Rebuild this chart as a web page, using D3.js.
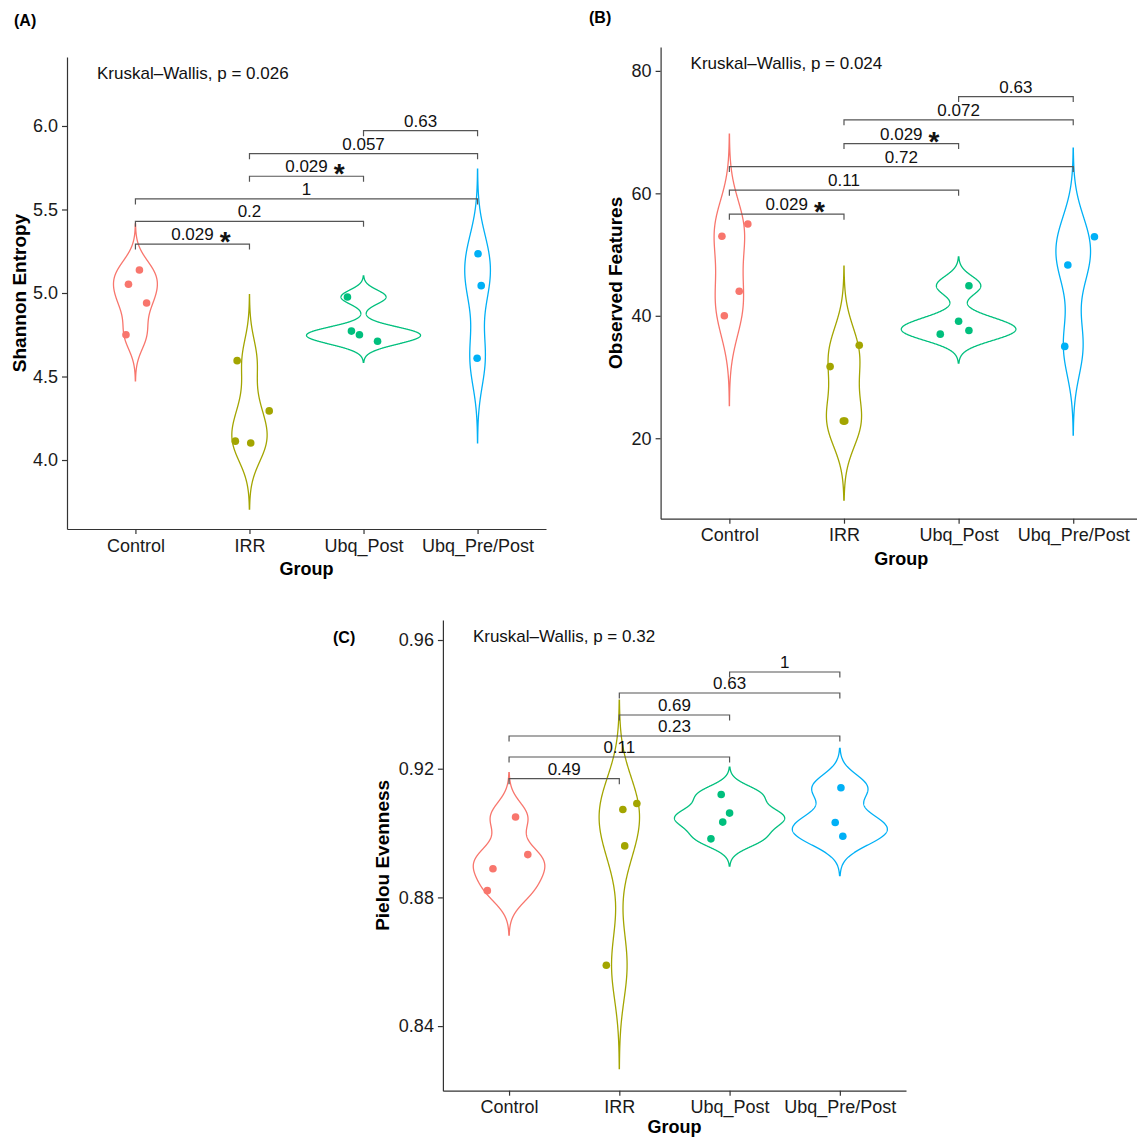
<!DOCTYPE html>
<html>
<head>
<meta charset="utf-8">
<script src="https://d3js.org/d3.v7.min.js"></script>
<style>
  body { margin: 0; background: #fff; }
  svg { font-family: "Liberation Sans", Arial, Helvetica, sans-serif; }
  .violin { fill: none; stroke-width: 1.3; }
  .bracket { fill: none; stroke: #555; stroke-width: 1.2; }
  .axis .domain, .axis line { stroke: #333; stroke-width: 1.2; }
  .axis text { fill: #1a1a1a; font-size: 18px; }
</style>
</head>
<body>
<svg id="chart" width="1137" height="1138"></svg>
<script>
// groups + colours (ggplot hue palette)
var groups = ["Control", "IRR", "Ubq_Post", "Ubq_Pre/Post"];
var colors = ["#F8766D", "#A3A500", "#00BF7D", "#00B0F6"];

// comparisons, same order in every panel: [groupA, groupB]
var pairs = [[0, 1], [0, 2], [0, 3], [1, 2], [1, 3], [2, 3]];

// (A) Shannon entropy
var shannon = [
  [5.138, 5.052, 4.940, 4.750],
  [4.595, 4.294, 4.113, 4.102],
  [4.976, 4.772, 4.750, 4.711],
  [5.235, 5.044, 4.609]
];
var shannonJitter = [
  [0.035, -0.061, 0.098, -0.083],
  [-0.108, 0.173, -0.124, 0.011],
  [-0.141, -0.106, -0.036, 0.123],
  [0.004, 0.032, -0.004]
];
var shannonTicks = [4.0, 4.5, 5.0, 5.5, 6.0];
var shannonDomain = [3.587, 6.413];
var shannonP = ["0.029", "0.2", "1", "0.029", "0.057", "0.63"];
var shannonSig = [true, false, false, true, false, false];
var shannonLevels = [5.293, 5.429, 5.563, 5.699, 5.834, 5.972];

// (B) Observed features
var observed = [
  [55, 53, 44, 40],
  [35.2, 31.7, 22.8, 22.8],
  [44.9, 39.1, 37.6, 37.0],
  [52.9, 48.3, 35.0]
];
var observedJitter = [
  [0.161, -0.065, 0.086, -0.044],
  [0.133, -0.121, -0.006, 0.007],
  [0.090, 0.0, 0.090, -0.160],
  [0.185, -0.047, -0.074]
];
var observedTicks = [20, 40, 60, 80];
var observedDomain = [6.86, 83.9];
var observedP = ["0.029", "0.11", "0.72", "0.029", "0.072", "0.63"];
var observedSig = [true, false, false, true, false, false];
var observedLevels = [56.6, 60.51, 64.37, 68.13, 72.0, 75.8];

// (C) Pielou evenness
var pielou = [
  [0.9050, 0.8933, 0.8889, 0.8821],
  [0.9092, 0.9073, 0.8960, 0.8589],
  [0.9120, 0.9062, 0.9034, 0.8982],
  [0.9141, 0.9033, 0.8990]
];
var pielouJitter = [
  [0.059, 0.170, -0.146, -0.197],
  [0.159, 0.032, 0.049, -0.118],
  [-0.076, 0.0, -0.062, -0.169],
  [0.010, -0.042, 0.027]
];
var pielouTicks = [0.84, 0.88, 0.92, 0.96];
var pielouDomain = [0.81992, 0.96622];
var pielouP = ["0.49", "0.11", "0.23", "0.69", "0.63", "1"];
var pielouSig = [false, false, false, false, false, false];
var pielouLevels = [0.91689, 0.92364, 0.93016, 0.93669, 0.94353, 0.95005];

var svg = d3.select("#chart");

// R's bw.nrd0
function bwNrd0(v) {
  var s = d3.deviation(v);
  var sorted = v.slice().sort(d3.ascending);
  var iqr = d3.quantileSorted(sorted, 0.75) - d3.quantileSorted(sorted, 0.25);
  var lo = Math.min(s, iqr / 1.34);
  if (!lo) lo = s || 1;
  return 0.9 * lo * Math.pow(v.length, -0.2);
}

// gaussian kde, not trimmed (extends 3 bw like geom_violin(trim = FALSE))
function kde(v) {
  var bw = bwNrd0(v);
  var lo = d3.min(v) - 3 * bw, hi = d3.max(v) + 3 * bw;
  return d3.range(512).map(function(i) {
    var t = lo + (hi - lo) * i / 511;
    var d = d3.mean(v, function(x) { return Math.exp(-0.5 * Math.pow((t - x) / bw, 2)); }) / (bw * Math.sqrt(2 * Math.PI));
    return { v: t, d: d };
  });
}

function panel(cfg) {
  var g = svg.append("g");

  var x = d3.scalePoint().domain(groups).range([cfg.left, cfg.right]).padding(0.6);
  var y = d3.scaleLinear().domain(cfg.domain).range([cfg.bottom, cfg.top]);
  var step = x.step();

  // violins
  var dens = cfg.values.map(kde);
  var maxD = d3.max(dens, function(a) { return d3.max(a, function(p) { return p.d; }); });
  dens.forEach(function(a, i) {
    var cx = x(groups[i]);
    var area = d3.area()
      .y(function(p) { return y(p.v); })
      .x0(function(p) { return cx - p.d / maxD * step / 2; })
      .x1(function(p) { return cx + p.d / maxD * step / 2; });
    g.append("path").attr("class", "violin").attr("stroke", colors[i]).attr("d", area(a));
  });

  // brackets
  pairs.forEach(function(pr, k) {
    var x1 = x(groups[pr[0]]), x2 = x(groups[pr[1]]), yy = y(cfg.levels[k]);
    g.append("path").attr("class", "bracket")
      .attr("d", "M" + x1 + "," + (yy + 5.5) + "V" + yy + "H" + x2 + "V" + (yy + 5.5));
    var t = g.append("text")
      .attr("x", (x1 + x2) / 2).attr("y", yy - 4)
      .attr("text-anchor", "middle").attr("font-size", 17).attr("fill", "#111")
      .text(cfg.p[k]);
    if (cfg.sig[k]) {
      var w = t.node().getComputedTextLength();
      g.append("text")
        .attr("x", (x1 + x2) / 2 + w / 2 + 6).attr("y", yy + 7)
        .attr("font-size", 28).attr("font-weight", "bold").attr("fill", "#111")
        .text("*");
    }
  });

  // points
  cfg.values.forEach(function(vals, i) {
    g.selectAll(null).data(vals).enter().append("circle")
      .attr("cx", function(d, j) { return x(groups[i]) + cfg.jitter[i][j] * step; })
      .attr("cy", function(d) { return y(d); })
      .attr("r", 3.8)
      .attr("fill", colors[i]);
  });

  // axes
  g.append("g").attr("class", "axis")
    .attr("transform", "translate(0," + cfg.bottom + ")")
    .call(d3.axisBottom(x).tickSize(5).tickSizeOuter(0).tickPadding(5))
    .attr("font-family", null).attr("font-size", null);
  g.append("g").attr("class", "axis")
    .attr("transform", "translate(" + cfg.left + ",0)")
    .call(d3.axisLeft(y).tickValues(cfg.ticks).tickFormat(d3.format(cfg.fmt)).tickSize(5).tickSizeOuter(0).tickPadding(4))
    .attr("font-family", null).attr("font-size", null);

  // titles
  g.append("text")
    .attr("x", (cfg.left + cfg.right) / 2).attr("y", Math.min(cfg.bottom + 46, 1133))
    .attr("text-anchor", "middle").attr("font-size", 18).attr("font-weight", "bold")
    .text("Group");
  g.append("text")
    .attr("transform", "translate(" + (cfg.left - cfg.titleOff) + "," + (cfg.top + cfg.bottom) / 2 + ") rotate(-90)")
    .attr("text-anchor", "middle").attr("font-size", 19).attr("font-weight", "bold")
    .text(cfg.ytitle);
  g.append("text")
    .attr("x", cfg.left + 30).attr("y", cfg.top + 22)
    .attr("font-size", 17).attr("fill", "#111")
    .text(cfg.kw);
  g.append("text")
    .attr("x", cfg.tag[0]).attr("y", cfg.tag[1])
    .attr("font-size", 16).attr("font-weight", "bold")
    .text(cfg.tagText);
}

panel({
  left: 67, right: 546, top: 57, bottom: 529,
  domain: shannonDomain, ticks: shannonTicks, fmt: ".1f",
  values: shannon, jitter: shannonJitter,
  p: shannonP, sig: shannonSig, levels: shannonLevels,
  ytitle: "Shannon Entropy", titleOff: 41,
  kw: "Kruskal\u2013Wallis, p = 0.026",
  tag: [14, 26], tagText: "(A)"
});

panel({
  left: 660.6, right: 1142, top: 47, bottom: 518.7,
  domain: observedDomain, ticks: observedTicks, fmt: "d",
  values: observed, jitter: observedJitter,
  p: observedP, sig: observedSig, levels: observedLevels,
  ytitle: "Observed Features", titleOff: 39,
  kw: "Kruskal\u2013Wallis, p = 0.024",
  tag: [589, 23], tagText: "(B)"
});

panel({
  left: 442.9, right: 906, top: 620, bottom: 1090.7,
  domain: pielouDomain, ticks: pielouTicks, fmt: ".2f",
  values: pielou, jitter: pielouJitter,
  p: pielouP, sig: pielouSig, levels: pielouLevels,
  ytitle: "Pielou Evenness", titleOff: 54,
  kw: "Kruskal\u2013Wallis, p = 0.32",
  tag: [333, 643], tagText: "(C)"
});
</script>
</body>
</html>
